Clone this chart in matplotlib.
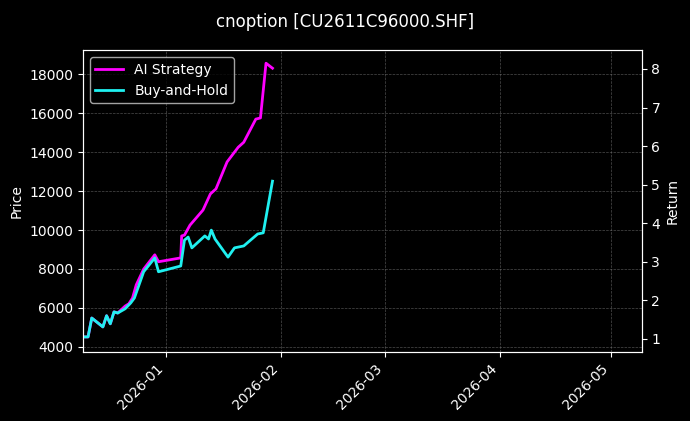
import pandas as pd
import matplotlib
matplotlib.use("Agg")
import matplotlib.pyplot as plt
import matplotlib.dates as mdates

plt.style.use("dark_background")

ai_dates = ["2025-12-10", "2025-12-11", "2025-12-12", "2025-12-15", "2025-12-16", "2025-12-17",
            "2025-12-18", "2025-12-19", "2025-12-21", "2025-12-22", "2025-12-23", "2025-12-24",
            "2025-12-26", "2025-12-29", "2025-12-30", "2026-01-05", "2026-01-05 06:00", "2026-01-06",
            "2026-01-07 12:00", "2026-01-11", "2026-01-13", "2026-01-14 12:00", "2026-01-17 12:00",
            "2026-01-20 12:00", "2026-01-22", "2026-01-25 06:00", "2026-01-26 12:00", "2026-01-28",
            "2026-01-29 18:00"]
ai_ret = [1.05, 1.05, 1.54, 1.31, 1.60, 1.39, 1.70, 1.67, 1.85, 1.91, 2.06, 2.40,
          2.81, 3.18, 3.00, 3.10, 3.67, 3.69, 3.95, 4.34, 4.76, 4.89, 5.59, 5.97,
          6.10, 6.70, 6.73, 8.15, 8.02]

bh_dates = ["2025-12-10", "2025-12-11", "2025-12-12", "2025-12-15", "2025-12-16", "2025-12-17",
            "2025-12-18", "2025-12-19", "2025-12-21", "2025-12-22 12:00", "2025-12-23 12:00",
            "2025-12-26", "2025-12-29", "2025-12-30", "2026-01-05", "2026-01-06", "2026-01-07",
            "2026-01-08", "2026-01-11 12:00", "2026-01-12 12:00", "2026-01-13 06:00", "2026-01-14 06:00",
            "2026-01-17 18:00", "2026-01-19 12:00", "2026-01-22", "2026-01-25 18:00", "2026-01-27 06:00",
            "2026-01-29 18:00"]
bh_ret = [1.05, 1.05, 1.54, 1.31, 1.60, 1.39, 1.70, 1.67, 1.78, 1.93, 2.06, 2.74,
          3.10, 2.74, 2.89, 3.56, 3.64, 3.36, 3.67, 3.59, 3.82, 3.59, 3.12, 3.36,
          3.41, 3.72, 3.75, 5.09]

fig = plt.figure(figsize=(6.9, 4.21), dpi=100, facecolor="black")
ax = fig.add_axes([0.12, 0.164, 0.81, 0.717])
ax.set_facecolor("black")
ax2 = ax.twinx()

ax.set_ylim(3744, 19230)
ax.set_ylabel("Price")
ax.set_xlim(pd.Timestamp("2025-12-09 14:00"), pd.Timestamp("2026-05-09 08:00"))
ax.grid(True, color="gray", linestyle="--", linewidth=0.5, alpha=0.6)

ax2.plot(pd.to_datetime(ai_dates, format="mixed"), ai_ret, color="#ff00ff", lw=2, label="AI Strategy")
ax2.plot(pd.to_datetime(bh_dates, format="mixed"), bh_ret, color="#1ff0f0", lw=2, label="Buy-and-Hold")
ax2.set_ylim(0.66, 8.49)
ax2.set_ylabel("Return")
ax2.legend(loc="upper left")

ax.xaxis.set_major_locator(mdates.MonthLocator())
ax.xaxis.set_major_formatter(mdates.DateFormatter("%Y-%m"))
plt.setp(ax.get_xticklabels(), rotation=45, ha="right")

fig.suptitle("cnoption [CU2611C96000.SHF]", y=0.97)
fig.savefig("out.png", facecolor="black")
